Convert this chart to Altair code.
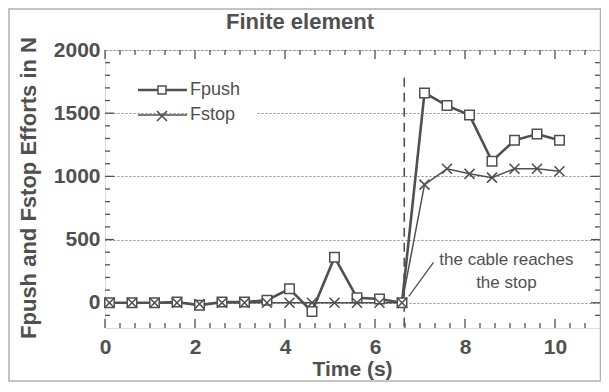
import altair as alt
import pandas as pd

# ---- data ----
time_s = [0.1, 0.6, 1.1, 1.6, 2.1, 2.6, 3.1, 3.6, 4.1, 4.6, 5.1, 5.6, 6.1, 6.6,
          7.1, 7.6, 8.1, 8.6, 9.1, 9.6, 10.1]
fpush = [0, 0, 0, 5, -20, 5, 5, 20, 110, -70, 360, 40, 30, 0,
         1660, 1560, 1485, 1120, 1285, 1335, 1285]
fstop = [0, 0, 0, 0, -10, 0, 0, 0, 0, 0, 0, 0, 0, 0,
         935, 1060, 1020, 990, 1060, 1060, 1040]

x_tick_labels = [0, 2, 4, 6, 8, 10]
y_tick_labels = [0, 500, 1000, 1500, 2000]
x_major_ticks = [0, 2, 4, 6, 8, 10]
x_minor_ticks = [round(k / 3, 4) for k in range(1, 33) if k % 6]
y_major_ticks = [0, 500, 1000, 1500]
y_minor_ticks = [v for v in range(-100, 2000, 100) if v % 500]

stop_time = 6.65
annot_lines = ["the cable reaches", "the stop"]

GRAY = "#505050"
FONT = "Liberation Sans"
W, H = 495, 278

df = pd.DataFrame({"t": time_s, "Fpush": fpush, "Fstop": fstop})
one = pd.DataFrame({"a": [0]})

xscale = alt.Scale(domain=[0, 11], nice=False, zero=False)
yscale = alt.Scale(domain=[-200, 2000], nice=False, zero=False)
xaxis = alt.Axis(values=x_tick_labels, title=None, tickSize=0, domain=False, grid=False,
                 format="d",
                 labelFontSize=21, labelFont=FONT, labelFontWeight="bold", labelColor=GRAY,
                 labelPadding=8, labelFlush=False)
yaxis = alt.Axis(values=y_tick_labels, title=None, tickSize=0, domain=False, grid=True,
                 format="d",
                 gridDash=[2, 2], gridColor="#8a8a8a", gridWidth=1,
                 labelFontSize=21, labelFont=FONT, labelFontWeight="bold", labelColor=GRAY,
                 labelPadding=5)


def xe(field):
    return alt.X(f"{field}:Q", scale=xscale, axis=xaxis)


def ye(field):
    return alt.Y(f"{field}:Q", scale=yscale, axis=yaxis)


layers = []

# white box behind the "Fstop" legend text (interrupts grid line)
layers.append(alt.Chart(one).mark_rect(color="white").encode(
    x=alt.value(83), x2=alt.value(151), y=alt.value(54), y2=alt.value(76)))

# inward ticks
xt_major = pd.DataFrame({"v": x_major_ticks})
xt_minor = pd.DataFrame({"v": x_minor_ticks})
yt_major = pd.DataFrame({"v": y_major_ticks})
yt_minor = pd.DataFrame({"v": y_minor_ticks})
tick_style = dict(color=GRAY, strokeWidth=1.3)
for d, ln in [(xt_major, 9), (xt_minor, 5)]:
    layers.append(alt.Chart(d).mark_rule(**tick_style).encode(
        x=xe("v"), y=alt.value(H), y2=alt.value(H - ln)))
    layers.append(alt.Chart(d).mark_rule(**tick_style).encode(
        x=xe("v"), y=alt.value(0), y2=alt.value(ln)))
for d, ln in [(yt_major, 9), (yt_minor, 5)]:
    layers.append(alt.Chart(d).mark_rule(**tick_style).encode(
        y=ye("v"), x=alt.value(0), x2=alt.value(ln)))
    layers.append(alt.Chart(d).mark_rule(**tick_style).encode(
        y=ye("v"), x=alt.value(W), x2=alt.value(W - ln)))

# dashed "stop" line
stop_df = pd.DataFrame({"t": [stop_time], "y1": [1780], "y2": [-200]})
layers.append(alt.Chart(stop_df).mark_rule(color=GRAY, strokeWidth=1.6, strokeDash=[9, 6]).encode(
    x=xe("t"), y=ye("y1"), y2="y2:Q"))

# series
layers.append(alt.Chart(df).mark_line(color=GRAY, strokeWidth=1.5).encode(x=xe("t"), y=ye("Fstop")))
layers.append(alt.Chart(df).mark_line(color=GRAY, strokeWidth=2.6).encode(x=xe("t"), y=ye("Fpush")))
layers.append(alt.Chart(df).mark_point(shape="square", filled=True, fill="white", stroke=GRAY,
                                       strokeWidth=1.5, size=90, opacity=1).encode(
    x=xe("t"), y=ye("Fpush")))
XPATH = "M-1,-1L1,1M-1,1L1,-1"
layers.append(alt.Chart(df).mark_point(shape=XPATH, stroke=GRAY, strokeWidth=1.6, size=100,
                                       opacity=1).encode(x=xe("t"), y=ye("Fstop")))

# annotation
ann_line = pd.DataFrame({"t1": [7.3], "v1": [320], "t2": [6.75], "v2": [50]})
layers.append(alt.Chart(ann_line).mark_rule(color=GRAY, strokeWidth=1.3).encode(
    x=xe("t1"), y=ye("v1"), x2="t2:Q", y2="v2:Q"))
ann_txt = pd.DataFrame({"t": [8.92, 8.92], "v": [338, 158], "txt": annot_lines})
layers.append(alt.Chart(ann_txt).mark_text(font=FONT, fontSize=17, color=GRAY,
                                           align="center", baseline="middle").encode(
    x=xe("t"), y=ye("v"), text="txt:N"))

# legend
for yy, lw in [(40, 2.6), (65, 1.5)]:
    layers.append(alt.Chart(one).mark_rule(color=GRAY, strokeWidth=lw).encode(
        x=alt.value(33), x2=alt.value(82), y=alt.value(yy)))
layers.append(alt.Chart(one).mark_point(shape="square", filled=True, fill="white", stroke=GRAY,
                                        strokeWidth=1.5, size=64, opacity=1).encode(
    x=alt.value(57), y=alt.value(40)))
layers.append(alt.Chart(one).mark_point(shape=XPATH, stroke=GRAY, strokeWidth=1.6, size=100,
                                        opacity=1).encode(x=alt.value(57), y=alt.value(66)))
for yy, name in [(40, "Fpush"), (65, "Fstop")]:
    layers.append(alt.Chart(one).mark_text(font=FONT, fontSize=18, color=GRAY, align="left",
                                           baseline="middle").encode(
        x=alt.value(85), y=alt.value(yy), text=alt.value(name)))

# title and axis titles
layers.append(alt.Chart(one).mark_text(font=FONT, fontSize=22, fontWeight="bold", color=GRAY,
                                       align="center", baseline="middle").encode(
    x=alt.value(195), y=alt.value(-28), text=alt.value("Finite element")))
layers.append(alt.Chart(one).mark_text(font=FONT, fontSize=21, fontWeight="bold", color=GRAY,
                                       align="center", baseline="middle").encode(
    x=alt.value(W / 2), y=alt.value(H + 42), text=alt.value("Time (s)")))
layers.append(alt.Chart(one).mark_text(font=FONT, fontSize=22, fontWeight="bold", color=GRAY,
                                       align="center", baseline="middle", angle=270).encode(
    x=alt.value(-76), y=alt.value(138), text=alt.value("Fpush and Fstop Efforts in N")))

# outer picture border
layers.append(alt.Chart(one).mark_rect(fill=None, stroke="#b0b0b0", strokeWidth=1.5).encode(
    x=alt.value(-96), x2=alt.value(W + 0.5), y=alt.value(-41), y2=alt.value(H + 53)))

chart = alt.layer(*layers).properties(
    width=W, height=H, autosize="none",
    padding={"left": 97, "top": 42, "right": 1, "bottom": 54},
).configure_view(stroke=GRAY, strokeWidth=1.6).configure(background="white")

chart.save("out.html", embed_options={"renderer": "svg", "actions": False})
